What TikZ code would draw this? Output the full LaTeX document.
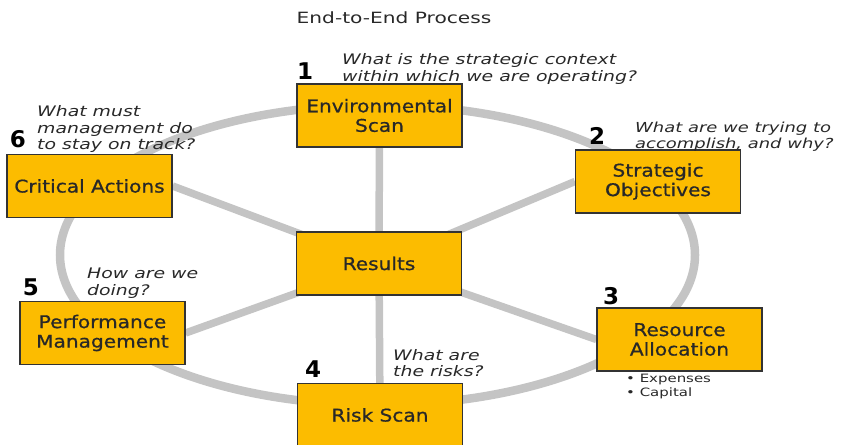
\documentclass[tikz,border=0pt]{standalone}
\usepackage{fontspec}
\setmainfont[FakeStretch=1.3]{DejaVu Sans}
\newfontfamily\boxfont[FakeStretch=1.15,FakeBold=0.8]{DejaVu Sans}
\newfontfamily\numfont{DejaVu Sans}
\usepackage{tikz}
\usetikzlibrary{positioning}

\definecolor{boxgold}{RGB}{252,188,0}
\definecolor{ringgray}{RGB}{196,196,196}
\definecolor{textdark}{RGB}{40,40,40}

\pgfdeclarelayer{background}
\pgfsetlayers{background,main}

\begin{document}
\begin{tikzpicture}[x=1pt, y=-1pt,
    stage/.style={rectangle, draw=black!80, line width=1.2pt, fill=boxgold,
        minimum width=165pt, minimum height=63pt, inner sep=0pt, align=center,
        text=textdark, font=\boxfont\fontsize{17.5}{19.5}\selectfont},
    spoke/.style={draw=ringgray, line width=7.5pt},
    num/.style={inner sep=0pt, text=black, font=\numfont\bfseries\fontsize{23}{23}\selectfont},
    question/.style={anchor=west, inner sep=0pt, align=left, text=textdark,
        font=\itshape\fontsize{14.5}{16.5}\selectfont}]

    \useasboundingbox (0,0) rectangle (842,444);

    \node[text=textdark, font=\fontsize{15.5}{15.5}\selectfont] (title) at (394,18) {End-to-End Process};

    %the six stages and the hub
    \node[stage] (envscan) at (379.5,115.5) {Environmental\\Scan};
    \node[stage] (stratobj) at (658,181.5) {Strategic\\Objectives};
    \node[stage] (resalloc) at (679.5,339.5) {Resource\\Allocation};
    \node[stage] (riskscan) at (380,415) {Risk Scan};
    \node[stage] (perfmgmt) at (102.5,333) {Performance\\Management};
    \node[stage] (critact) at (89.5,186) {Critical Actions};
    \node[stage] (results) at (379,263.5) {Results};

    %ring and spokes behind the boxes
    \begin{pgfonlayer}{background}
        \draw[ringgray, line width=8.5pt] (377.5,255) ellipse [x radius=317.5, y radius=150];
        \draw[spoke] (results.center) -- (envscan.center);
        \draw[spoke] (results.center) -- (stratobj.west);
        \draw[spoke] (results.center) -- (resalloc.west);
        \draw[spoke] (results.center) -- (riskscan.center);
        \draw[spoke] (results.center) -- (perfmgmt.east);
        \draw[spoke] (results.center) -- (critact.east);
    \end{pgfonlayer}

    %step numbers
    \node[num] (n1) at (305,71) {1};
    \node[num] (n2) at (597,136) {2};
    \node[num] (n3) at (611,296) {3};
    \node[num] (n4) at (313,369) {4};
    \node[num] (n5) at (31,287) {5};
    \node[num] (n6) at (18,139) {6};

    %questions
    \node[question] (q1) at (342,69) {What is the strategic context\\within which we are operating?};
    \node[question, font=\itshape\fontsize{13.8}{16}\selectfont] (q2) at (635,137) {What are we trying to\\accomplish, and why?};
    \node[question] (q4) at (393,363) {What are\\the risks?};
    \node[question] (q5) at (87,283) {How are we\\doing?};
    \node[question] (q6) at (37,129) {What must\\management do\\to stay on track?};

    \node[anchor=north west, inner sep=0pt, align=left, text=textdark,
        font=\fontsize{11.5}{13.5}\selectfont] (costs) at (626,374) {• Expenses\\• Capital};

\end{tikzpicture}
\end{document}
